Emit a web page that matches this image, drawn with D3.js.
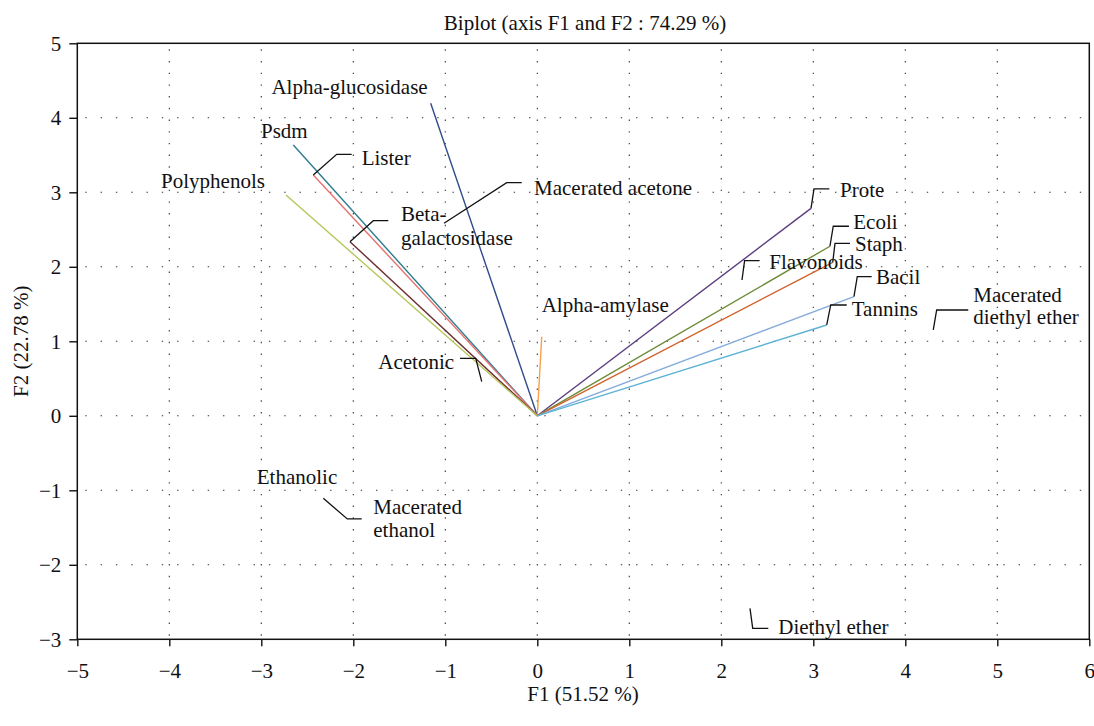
<!DOCTYPE html>
<html>
<head>
<meta charset="utf-8">
<script src="https://cdn.jsdelivr.net/npm/d3@7"></script>
<style>
  html, body { margin: 0; padding: 0; background: #fff; }
  svg { display: block; }
  text { font-family: "Liberation Serif", "DejaVu Serif", serif; fill: #111; }
</style>
</head>
<body>
<svg id="chart" width="1094" height="726"></svg>
<script>
// ---------------- DATA ----------------
const chartTitle = "Biplot (axis F1 and F2 : 74.29 %)";
const xLabel = "F1 (51.52 %)";
const yLabel = "F2 (22.78 %)";
const xTicks = [-5, -4, -3, -2, -1, 0, 1, 2, 3, 4, 5, 6];
const yTicks = [-3, -2, -1, 0, 1, 2, 3, 4, 5];

// variables (vectors from origin)
const variables = ["Alpha-glucosidase", "Psdm", "Lister", "Beta-galactosidase", "Polyphenols",
                   "Alpha-amylase", "Prote", "Ecoli", "Staph", "Bacil", "Tannins"];
const varF1 = [-1.159, -2.652, -2.435, -2.036, -2.732, 0.048, 2.975, 3.181, 3.211, 3.442, 3.146];
const varF2 = [ 4.195,  3.635,  3.232,  2.337,  2.964, 1.062, 2.785, 2.276, 2.060, 1.599, 1.219];

// observations (labels only)
const observations = ["Acetonic", "Ethanolic", "Macerated acetone", "Macerated ethanol",
                      "Macerated diethyl ether", "Diethyl ether", "Flavonoids"];
const obsF1 = [-0.604, -2.612, -1.014, -2.326, 4.304,  2.312, 2.225];
const obsF2 = [ 0.458, -0.996,  2.584, -1.107, 1.152, -2.584, 1.823];

// ---------------- STYLE / LAYOUT ----------------
const varColors = ["#2f4b8a", "#2c7b8e", "#e7716f", "#6d2c2f", "#b7c65b",
                   "#f6a14a", "#5c3e7d", "#6c8a36", "#d1622b", "#82abdc", "#5db3d4"];

// label layout: pixel offsets from the point (elbow, end of leader, text position)
const labelLayout = {
  "Alpha-glucosidase": { text: [-3, -9], anchor: "end" },
  "Psdm": { text: [-32.3, -7.3], anchor: "start" },
  "Polyphenols": { text: [-21, -7], anchor: "end" },
  "Lister": { elbow: [23.4, -20.7], end: [38.4, -20.7], text: [48.4, -10], anchor: "start" },
  "Beta-galactosidase": { elbow: [23.3, -21], end: [38.3, -21], text: [51, -20.7], anchor: "start",
                          lines: ["Beta-", "galactosidase"], lh: 24 },
  "Alpha-amylase": { text: [0, -25], anchor: "start" },
  "Prote": { elbow: [3, -19.4], end: [18.3, -19.4], text: [29, -11], anchor: "start" },
  "Ecoli": { elbow: [3.3, -20], end: [19, -20], text: [23.3, -17], anchor: "start" },
  "Staph": { elbow: [2.3, -19], end: [17.3, -19], text: [22.3, -11.3], anchor: "start" },
  "Bacil": { elbow: [3.3, -20], end: [17.7, -20], text: [22, -12.4], anchor: "start" },
  "Tannins": { elbow: [4, -20], end: [20, -20], text: [25, -8.7], anchor: "start" },
  "Flavonoids": { elbow: [2.6, -19.3], end: [17.6, -19.3], text: [27.3, -10.7], anchor: "start" },
  "Acetonic": { elbow: [-6, -23.4], end: [-21.7, -23.4], text: [-27.7, -12.7], anchor: "end" },
  "Ethanolic": { text: [0, -6], anchor: "middle" },
  "Macerated acetone": { elbow: [62.7, -40.6], end: [77.7, -40.6], text: [90, -28.3], anchor: "start" },
  "Macerated ethanol": { elbow: [24, 20.7], end: [38.4, 20.7], text: [50, 15.7], anchor: "start",
                         lines: ["Macerated", "ethanol"], lh: 23 },
  "Macerated diethyl ether": { elbow: [3.4, -20], end: [35, -20], text: [40, -28], anchor: "start",
                               lines: ["Macerated", "diethyl ether"], lh: 22 },
  "Diethyl ether": { elbow: [2.7, 20], end: [18.3, 20], text: [28.3, 25.7], anchor: "start" }
};

const FS = 21;
const svg = d3.select("#chart");
svg.append("rect").attr("width", 1094).attr("height", 726).attr("fill", "#fff");

const x = d3.scaleLinear().domain([-5, 6]).range([77.3, 1089.3]);
const y = d3.scaleLinear().domain([-3, 5]).range([639.3, 43.3]);

const g = svg.append("g");

// grid
g.selectAll(".vgrid").data(xTicks.filter(t => t > -5 && t < 6)).enter().append("line")
  .attr("x1", d => x(d)).attr("x2", d => x(d))
  .attr("y1", y(5)).attr("y2", y(-3))
  .attr("stroke", "#333").attr("stroke-width", 1.1)
  .attr("stroke-dasharray", "1.4,10.3").attr("stroke-dashoffset", -6);
g.selectAll(".hgrid").data(yTicks.filter(t => t > -3 && t < 5)).enter().append("line")
  .attr("x1", x(-5)).attr("x2", x(6))
  .attr("y1", d => y(d)).attr("y2", d => y(d))
  .attr("stroke", "#333").attr("stroke-width", 1.1)
  .attr("stroke-dasharray", "1.4,13.9").attr("stroke-dashoffset", -8);

// vectors
variables.forEach((name, i) => {
  g.append("line")
    .attr("x1", x(0)).attr("y1", y(0))
    .attr("x2", x(varF1[i])).attr("y2", y(varF2[i]))
    .attr("stroke", varColors[i]).attr("stroke-width", 1.4);
});

// labels + leaders
function drawLabel(name, px, py) {
  const L = labelLayout[name];
  if (L.elbow) {
    g.append("polyline")
      .attr("points", [[px, py], [px + L.elbow[0], py + L.elbow[1]], [px + L.end[0], py + L.end[1]]]
        .map(p => p.join(",")).join(" "))
      .attr("fill", "none").attr("stroke", "#111").attr("stroke-width", 1.3);
  }
  const lines = L.lines || [name];
  const t = g.append("text")
    .attr("x", px + L.text[0]).attr("y", py + L.text[1])
    .attr("text-anchor", L.anchor).attr("font-size", FS);
  lines.forEach((ln, k) => {
    t.append("tspan").attr("x", px + L.text[0]).attr("dy", k === 0 ? 0 : (L.lh || 23)).text(ln);
  });
}
variables.forEach((name, i) => drawLabel(name, x(varF1[i]), y(varF2[i])));
observations.forEach((name, i) => drawLabel(name, x(obsF1[i]), y(obsF2[i])));

// axes
const xAxis = d3.axisBottom(x).tickValues(xTicks).tickSize(7).tickPadding(17).tickFormat(d3.format("d"));
const yAxis = d3.axisLeft(y).tickValues(yTicks).tickSize(8).tickPadding(8).tickFormat(d3.format("d"));
const gx = svg.append("g").attr("transform", `translate(0,${y(-3)})`).call(xAxis);
const gy = svg.append("g").attr("transform", `translate(${x(-5)},0)`).call(yAxis);
[gx, gy].forEach(a => {
  a.select(".domain").remove();
  a.selectAll("line").attr("stroke", "#111").attr("stroke-width", 1.4);
  a.selectAll("text").attr("font-size", FS).attr("fill", "#111");
});
gy.selectAll("text").attr("dy", "0.34em");

// frame
svg.append("rect")
  .attr("x", x(-5)).attr("y", y(5))
  .attr("width", x(6) - x(-5)).attr("height", y(-3) - y(5))
  .attr("fill", "none").attr("stroke", "#111").attr("stroke-width", 1.5);

// titles
svg.append("text").attr("x", 585).attr("y", 30).attr("text-anchor", "middle")
  .attr("font-size", FS).text(chartTitle);
svg.append("text").attr("x", 583).attr("y", 701).attr("text-anchor", "middle")
  .attr("font-size", FS).text(xLabel);
svg.append("text").attr("transform", `translate(28,${(y(5) + y(-3)) / 2}) rotate(-90)`)
  .attr("text-anchor", "middle").attr("font-size", FS).text(yLabel);
</script>
</body>
</html>
